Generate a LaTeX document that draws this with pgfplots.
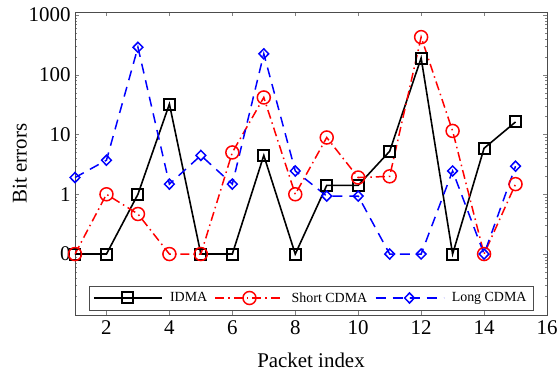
\documentclass[border=0pt]{standalone}
\usepackage{pgfplots}
\pgfplotsset{compat=1.18}
\usepackage{fontspec}
\setmainfont{Liberation Serif}
\begin{document}
\begin{tikzpicture}
\begin{axis}[
  scale only axis,
  width=472bp, height=303bp,
  xmin=1, xmax=16, ymin=-2.02, ymax=3.05,
  xtick={2,4,6,8,10,12,14,16},
  ytick={-1,0,1,2,3},
  yticklabels={0,1,10,100,1000},
  minor ytick={-1.699,-1.523,-1.398,-1.301,-1.222,-1.155,-1.097,-1.046,
    -0.699,-0.523,-0.398,-0.301,-0.222,-0.155,-0.097,-0.046,
    0.301,0.477,0.602,0.699,0.778,0.845,0.903,0.954,
    1.301,1.477,1.602,1.699,1.778,1.845,1.903,1.954,
    2.301,2.477,2.602,2.699,2.778,2.845,2.903,2.954},
  tick align=inside,
  major tick length=4bp, minor tick length=2bp,
  /pgf/number format/assume math mode=true,
  tick label style={font=\fontsize{21}{24}\selectfont},
  label style={font=\fontsize{21}{24}\selectfont},
  xticklabel style={yshift=-2bp},
  yticklabel style={xshift=-1bp},
  xlabel={Packet index},
  ylabel={Bit errors},
  xlabel style={at={(axis description cs:0.5,-0.15)}, anchor=center},
  ylabel style={at={(axis description cs:-0.117,0.5)}, anchor=center},
  axis line style={black!70, line width=0.8pt},
  legend style={at={(0.5,0.015)}, anchor=south, legend columns=3,
    font=\fontsize{14}{16}\selectfont, draw=black!70, line width=0.8pt,
    inner sep=4pt, column sep=5bp, nodes={inner sep=2.5pt}},
  legend image code/.code={
    \draw[mark repeat=2,mark phase=2] plot coordinates {(-4bp,0bp) (30bp,0bp) (64bp,0bp)};
  },
]
\addplot[black, line width=1.6pt, mark=square, mark size=5.5bp, mark options={solid, line width=2pt}]
 coordinates {(1,-1)(2,-1)(3,0)(4,1.51)(5,-1)(6,-1)(7,0.65)(8,-1)(9,0.15)(10,0.15)(11,0.72)(12,2.28)(13,-1)(14,0.77)(15,1.21)};
\addlegendentry{IDMA}
\addplot[red, line width=1.5pt, dash pattern=on 9bp off 4bp on 1.5bp off 4bp, mark=o, mark size=6.5bp, mark options={solid, line width=1.5pt}]
 coordinates {(1,-1)(2,0)(3,-0.33)(4,-1)(5,-1)(6,0.70)(7,1.62)(8,0)(9,0.95)(10,0.28)(11,0.30)(12,2.63)(13,1.06)(14,-1)(15,0.17)};
\addlegendentry{Short CDMA}
\addplot[blue, line width=1.5pt, dash pattern=on 10bp off 7bp, mark=diamond, mark size=5bp, mark options={solid, line width=1.5pt, xscale=1.3}]
 coordinates {(1,0.28)(2,0.57)(3,2.46)(4,0.17)(5,0.65)(6,0.17)(7,2.35)(8,0.39)(9,-0.03)(10,-0.03)(11,-1)(12,-1)(13,0.39)(14,-1)(15,0.47)};
\addlegendentry{Long CDMA}
\end{axis}
\pgfresetboundingbox
\useasboundingbox (-75bp,-59bp) rectangle (482bp,315bp);
\end{tikzpicture}
\end{document}
